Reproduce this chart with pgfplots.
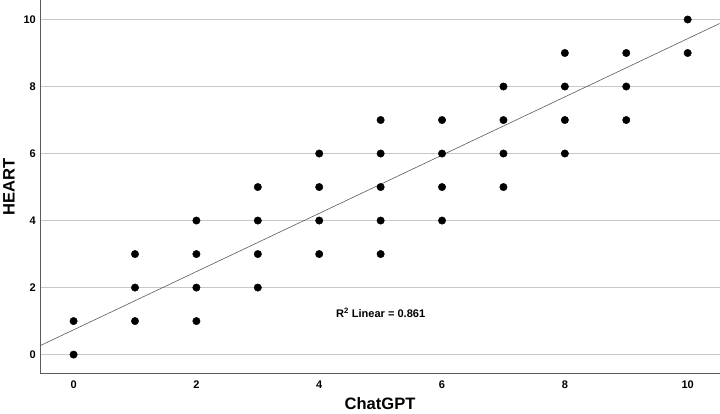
\documentclass[border=0pt]{standalone}
\usepackage{pgfplots}
\pgfplotsset{compat=1.18}
\usepackage{fontspec}
\setmainfont{Liberation Sans}
\definecolor{gridgray}{RGB}{200,200,200}
\definecolor{axgray}{RGB}{90,90,90}
\begin{document}
\begin{tikzpicture}
\begin{axis}[
    scale only axis,
    width=675bp, height=371bp,
    xmin=-0.54, xmax=10.52,
    ymin=-0.57, ymax=10.57,
    axis x line*=bottom, axis y line*=left,
    axis line style={draw=axgray, line width=0.8pt},
    xtick={0,2,...,10}, ytick={0,2,...,10},
    major tick length=0pt,
    ymajorgrids=true,
    grid style={draw=gridgray, line width=0.6pt},
    tick label style={font=\fontsize{11}{13}\selectfont\bfseries},
    /pgf/number format/assume math mode=true,
    xticklabel style={yshift=-4bp},
    yticklabel style={xshift=-1bp},
    xlabel={ChatGPT}, ylabel={HEART},
    label style={font=\fontsize{16.5}{18}\selectfont\bfseries},
    xlabel style={yshift=-2bp},
    ylabel style={yshift=2bp},
    clip=false,
]
\addplot[draw=axgray, line width=0.6pt] coordinates {(-0.54,0.27) (10.52,9.88)};
\addplot[only marks, mark=*, mark size=3.7bp, black] coordinates {
 (0,0) (0,1)
 (1,1) (1,2) (1,3)
 (2,1) (2,2) (2,3) (2,4)
 (3,2) (3,3) (3,4) (3,5)
 (4,3) (4,4) (4,5) (4,6)
 (5,3) (5,4) (5,5) (5,6) (5,7)
 (6,4) (6,5) (6,6) (6,7)
 (7,5) (7,6) (7,7) (7,8)
 (8,6) (8,7) (8,8) (8,9)
 (9,7) (9,8) (9,9)
 (10,9) (10,10)
};
\node[font=\fontsize{11}{13}\selectfont\bfseries] at (axis cs:5.0,1.24) {R\textsuperscript{2} Linear = 0.861};
\end{axis}
\end{tikzpicture}
\end{document}
